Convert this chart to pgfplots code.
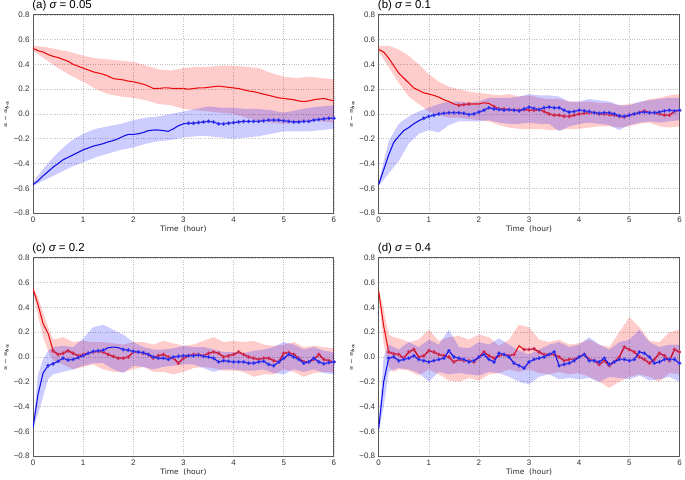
\documentclass[border=0pt]{standalone}
\usepackage{amsmath}
\usepackage{pgfplots}
\pgfplotsset{compat=1.18}
\usepackage{pgfplotstable}
\usepgfplotslibrary{groupplots,fillbetween}
\usepackage{fontspec}
\setmainfont{Liberation Sans}
\newfontfamily\dejavu{DejaVu Sans}
\definecolor{lred}{RGB}{232,16,16}
\definecolor{lblue}{RGB}{16,16,232}
\definecolor{crim}{RGB}{196,16,62}

% ---------- panel (a) ----------
\pgfplotstableread{
t r b
0.0 0.53 -0.57
0.1 0.51 -0.54
0.2 0.50 -0.50
0.3 0.48 -0.465
0.4 0.465 -0.43
0.5 0.455 -0.40
0.6 0.44 -0.37
0.7 0.425 -0.35
0.8 0.40 -0.33
0.9 0.385 -0.31
1.0 0.37 -0.29
1.1 0.355 -0.275
1.2 0.34 -0.26
1.3 0.33 -0.25
1.4 0.32 -0.24
1.5 0.305 -0.225
1.6 0.285 -0.215
1.7 0.28 -0.20
1.8 0.275 -0.18
1.9 0.265 -0.165
2.0 0.26 -0.165
2.1 0.25 -0.16
2.2 0.24 -0.15
2.3 0.225 -0.135
2.4 0.205 -0.13
2.5 0.205 -0.13
2.6 0.21 -0.135
2.7 0.21 -0.14
2.8 0.205 -0.12
2.9 0.205 -0.095
3.0 0.205 -0.08
3.1 0.20 -0.075
3.2 0.205 -0.075
3.3 0.21 -0.07
3.4 0.21 -0.065
3.5 0.215 -0.06
3.6 0.22 -0.065
3.7 0.225 -0.08
3.8 0.22 -0.08
3.9 0.215 -0.075
4.0 0.21 -0.07
4.1 0.205 -0.065
4.2 0.195 -0.06
4.3 0.185 -0.06
4.4 0.18 -0.06
4.5 0.17 -0.06
4.6 0.16 -0.055
4.7 0.15 -0.05
4.8 0.14 -0.05
4.9 0.13 -0.05
5.0 0.125 -0.055
5.1 0.12 -0.06
5.2 0.115 -0.065
5.3 0.105 -0.065
5.4 0.10 -0.06
5.5 0.105 -0.06
5.6 0.115 -0.05
5.7 0.12 -0.045
5.8 0.125 -0.04
5.9 0.115 -0.035
6.0 0.105 -0.035
}\meanA
\pgfplotstableread{
t lo hi
0 0.51 0.55
0.25 0.44 0.54
0.5 0.37 0.52
0.75 0.31 0.50
1.0 0.26 0.47
1.25 0.20 0.45
1.5 0.16 0.44
1.75 0.14 0.43
2.0 0.13 0.42
2.25 0.11 0.39
2.5 0.08 0.36
2.75 0.07 0.35
3.0 0.04 0.37
3.25 0.03 0.38
3.5 0.02 0.38
3.75 0.01 0.39
4.0 0.00 0.39
4.25 -0.03 0.38
4.5 -0.06 0.37
4.75 -0.07 0.33
5.0 -0.08 0.30
5.25 -0.07 0.29
5.5 -0.05 0.30
5.75 -0.06 0.29
6.0 -0.07 0.28
}\redA
\pgfplotstableread{
t lo hi
0 -0.58 -0.55
0.25 -0.53 -0.42
0.5 -0.48 -0.31
0.75 -0.43 -0.22
1.0 -0.39 -0.16
1.25 -0.35 -0.12
1.5 -0.32 -0.10
1.75 -0.29 -0.08
2.0 -0.27 -0.05
2.25 -0.24 -0.03
2.5 -0.22 -0.02
2.75 -0.21 0.0
3.0 -0.19 0.02
3.25 -0.18 0.04
3.5 -0.18 0.06
3.75 -0.19 0.05
4.0 -0.20 0.05
4.25 -0.19 0.04
4.5 -0.18 0.04
4.75 -0.16 0.03
5.0 -0.14 0.01
5.25 -0.14 0.03
5.5 -0.14 0.05
5.75 -0.13 0.06
6.0 -0.12 0.07
}\blueA

% ---------- panel (b) ----------
\pgfplotstableread{
t r b
0.0 0.52 -0.57
0.1 0.50 -0.45
0.2 0.45 -0.33
0.3 0.39 -0.23
0.4 0.33 -0.18
0.5 0.29 -0.135
0.6 0.25 -0.11
0.7 0.21 -0.08
0.8 0.19 -0.055
0.9 0.17 -0.035
1.0 0.16 -0.02
1.1 0.15 -0.01
1.2 0.135 0.0
1.3 0.115 0.005
1.4 0.10 0.01
1.5 0.08 0.01
1.6 0.07 0.01
1.7 0.075 0.005
1.8 0.08 -0.005
1.9 0.08 0.0
2.0 0.08 0.015
2.1 0.09 0.03
2.2 0.085 0.05
2.3 0.06 0.04
2.4 0.04 0.035
2.5 0.04 0.03
2.6 0.035 0.035
2.7 0.03 0.03
2.8 0.03 0.025
2.9 0.035 0.04
3.0 0.03 0.055
3.1 0.03 0.045
3.2 0.035 0.035
3.3 0.02 0.05
3.4 0.0 0.055
3.5 -0.01 0.05
3.6 -0.01 0.05
3.7 -0.02 0.03
3.8 -0.02 0.015
3.9 -0.01 0.02
4.0 0.0 0.03
4.1 0.005 0.025
4.2 0.01 0.02
4.3 0.01 0.01
4.4 0.0 0.005
4.5 0.0 0.01
4.6 -0.005 0.01
4.7 -0.01 0.0
4.8 -0.02 -0.015
4.9 -0.025 -0.02
5.0 -0.01 -0.01
5.1 0.0 0.0
5.2 0.01 0.01
5.3 0.025 0.015
5.4 0.01 0.01
5.5 0.01 0.01
5.6 0.0 0.015
5.7 -0.01 0.025
5.8 -0.01 0.03
5.9 0.02 0.025
6.0 0.03 0.03
}\meanB
\pgfplotstableread{
t lo hi
0 0.50 0.55
0.2 0.38 0.55
0.4 0.25 0.52
0.6 0.14 0.47
0.8 0.08 0.40
1.0 0.02 0.32
1.2 -0.01 0.26
1.4 -0.03 0.22
1.6 -0.03 0.20
1.8 -0.04 0.18
2.0 -0.05 0.17
2.2 -0.06 0.16
2.4 -0.09 0.15
2.6 -0.11 0.16
2.8 -0.12 0.14
3.0 -0.12 0.15
3.2 -0.12 0.13
3.4 -0.13 0.12
3.6 -0.13 0.12
3.8 -0.12 0.10
4.0 -0.12 0.10
4.2 -0.11 0.10
4.4 -0.10 0.09
4.6 -0.10 0.09
4.8 -0.11 0.07
5.0 -0.10 0.08
5.2 -0.08 0.09
5.4 -0.07 0.12
5.6 -0.10 0.13
5.8 -0.11 0.15
6.0 -0.10 0.16
}\redB
\pgfplotstableread{
t lo hi
0 -0.58 -0.55
0.2 -0.48 -0.22
0.4 -0.38 -0.08
0.6 -0.24 -0.02
0.8 -0.16 0.02
1.0 -0.13 0.05
1.2 -0.15 0.08
1.4 -0.09 0.10
1.6 -0.06 0.10
1.8 -0.06 0.09
2.0 -0.06 0.10
2.2 -0.05 0.13
2.4 -0.07 0.13
2.6 -0.08 0.13
2.8 -0.08 0.14
3.0 -0.07 0.16
3.2 -0.08 0.15
3.4 -0.08 0.15
3.6 -0.14 0.14
3.8 -0.10 0.10
4.0 -0.08 0.10
4.2 -0.07 0.12
4.4 -0.08 0.11
4.6 -0.09 0.10
4.8 -0.13 0.07
5.0 -0.09 0.07
5.2 -0.07 0.10
5.4 -0.06 0.11
5.6 -0.07 0.12
5.8 -0.06 0.13
6.0 -0.05 0.13
}\blueB

% ---------- panel (c) ----------
\pgfplotstableread{
t r b
0.0 0.55 -0.57
0.1 0.42 -0.30
0.2 0.27 -0.13
0.3 0.19 -0.07
0.4 0.05 -0.055
0.5 0.02 -0.035
0.6 0.03 -0.01
0.7 0.05 -0.025
0.8 0.03 -0.02
0.9 0.01 -0.005
1.0 0.02 0.01
1.1 0.03 0.03
1.2 0.04 0.045
1.3 0.045 0.05
1.4 0.04 0.055
1.5 0.02 0.075
1.6 0.005 0.08
1.7 -0.01 0.075
1.8 -0.01 0.06
1.9 0.0 0.055
2.0 0.04 0.045
2.1 0.04 0.04
2.2 0.03 0.035
2.3 0.02 0.02
2.4 -0.01 0.0
2.5 0.01 -0.01
2.6 0.02 -0.01
2.7 0.0 -0.02
2.8 -0.01 0.0
2.9 -0.05 0.005
3.0 -0.01 0.01
3.1 0.01 0.01
3.2 0.02 0.01
3.3 0.02 0.015
3.4 0.01 0.005
3.5 0.03 0.0
3.6 0.04 -0.01
3.7 0.03 -0.04
3.8 0.0 -0.03
3.9 0.01 -0.035
4.0 0.02 -0.04
4.1 0.04 -0.04
4.2 0.02 -0.04
4.3 0.0 -0.05
4.4 -0.01 -0.05
4.5 -0.02 -0.04
4.6 -0.01 -0.035
4.7 -0.01 -0.06
4.8 -0.03 -0.07
4.9 -0.04 -0.04
5.0 0.03 -0.01
5.1 0.035 0.02
5.2 0.02 0.0
5.3 -0.01 -0.02
5.4 -0.04 -0.05
5.5 -0.04 -0.04
5.6 -0.02 -0.01
5.7 0.02 -0.04
5.8 -0.02 -0.055
5.9 -0.03 -0.045
6.0 -0.04 -0.04
}\meanC
\pgfplotstableread{
t lo hi
0 0.53 0.56
0.1 0.33 0.48
0.2 0.16 0.36
0.3 0.05 0.24
0.4 -0.03 0.14
0.6 -0.06 0.16
0.8 -0.10 0.12
1.0 -0.08 0.13
1.2 -0.06 0.12
1.4 -0.10 0.12
1.6 -0.12 0.11
1.8 -0.12 0.10
2.0 -0.10 0.12
2.2 -0.08 0.12
2.4 -0.12 0.10
2.6 -0.12 0.13
2.8 -0.14 0.11
3.0 -0.12 0.09
3.2 -0.09 0.10
3.4 -0.08 0.13
3.6 -0.09 0.16
3.8 -0.11 0.12
4.0 -0.11 0.13
4.2 -0.12 0.12
4.4 -0.16 0.13
4.6 -0.14 0.10
4.8 -0.14 0.09
5.0 -0.10 0.10
5.2 -0.12 0.12
5.4 -0.16 0.08
5.6 -0.13 0.09
5.8 -0.12 0.08
6.0 -0.12 0.07
}\redC
\pgfplotstableread{
t lo hi
0 -0.58 -0.55
0.1 -0.46 -0.14
0.2 -0.32 -0.02
0.3 -0.18 0.05
0.4 -0.14 0.08
0.6 -0.12 0.09
0.8 -0.10 0.08
1.0 -0.07 0.15
1.2 -0.05 0.24
1.4 -0.05 0.26
1.6 -0.10 0.22
1.8 -0.13 0.18
2.0 -0.07 0.12
2.2 -0.08 0.08
2.4 -0.10 0.06
2.6 -0.08 0.06
2.8 -0.07 0.07
3.0 -0.06 0.09
3.2 -0.06 0.08
3.4 -0.09 0.08
3.6 -0.12 0.06
3.8 -0.10 0.04
4.0 -0.10 0.04
4.2 -0.11 0.03
4.4 -0.11 0.05
4.6 -0.10 0.06
4.8 -0.13 0.08
5.0 -0.14 0.12
5.2 -0.10 0.10
5.4 -0.12 0.06
5.6 -0.10 0.08
5.8 -0.13 0.05
6.0 -0.14 0.04
}\blueC

% ---------- panel (d) ----------
\pgfplotstableread{
t r b
0.0 0.53 -0.58
0.1 0.25 -0.20
0.2 0.04 -0.01
0.3 0.025 0.0
0.4 0.02 -0.03
0.5 -0.01 -0.02
0.6 0.04 -0.01
0.7 0.06 0.01
0.8 0.0 -0.02
0.9 0.01 -0.03
1.0 0.05 -0.04
1.1 0.04 -0.03
1.2 0.02 -0.02
1.3 0.01 -0.01
1.4 0.0 0.05
1.5 -0.04 0.0
1.6 -0.02 -0.01
1.7 -0.03 -0.02
1.8 -0.03 -0.04
1.9 -0.04 -0.03
2.0 0.0 0.0
2.1 0.04 0.02
2.2 0.01 -0.02
2.3 -0.01 -0.04
2.4 0.01 0.03
2.5 0.02 0.02
2.6 0.01 0.0
2.7 0.02 -0.05
2.8 0.09 -0.07
2.9 0.06 -0.09
3.0 0.06 -0.04
3.1 0.065 -0.02
3.2 0.04 -0.01
3.3 0.02 0.0
3.4 0.02 0.02
3.5 0.02 0.04
3.6 0.0 -0.07
3.7 -0.03 -0.06
3.8 -0.02 -0.05
3.9 -0.02 -0.03
4.0 0.0 0.0
4.1 0.02 0.02
4.2 -0.02 -0.03
4.3 -0.03 -0.03
4.4 -0.06 -0.04
4.5 -0.03 -0.01
4.6 -0.07 -0.06
4.7 -0.04 -0.04
4.8 0.0 -0.02
4.9 0.08 -0.02
5.0 0.06 -0.03
5.1 0.04 -0.02
5.2 0.0 0.04
5.3 -0.02 0.03
5.4 -0.05 0.0
5.5 -0.02 -0.05
5.6 0.03 -0.04
5.7 0.01 -0.02
5.8 -0.03 -0.02
5.9 0.06 -0.02
6.0 0.04 -0.05
}\meanD
\pgfplotstableread{
t lo hi
0 0.50 0.55
0.1 0.10 0.38
0.2 -0.08 0.18
0.3 -0.12 0.16
0.4 -0.10 0.15
0.6 -0.11 0.12
0.8 -0.15 0.14
1.0 -0.10 0.22
1.2 -0.14 0.13
1.4 -0.19 0.16
1.6 -0.20 0.17
1.8 -0.17 0.14
2.0 -0.19 0.18
2.2 -0.14 0.16
2.4 -0.13 0.09
2.6 -0.10 0.14
2.8 -0.12 0.26
3.0 -0.10 0.24
3.2 -0.13 0.14
3.4 -0.14 0.12
3.6 -0.12 0.14
3.8 -0.14 0.10
4.0 -0.13 0.11
4.2 -0.16 0.14
4.4 -0.20 0.10
4.6 -0.25 0.08
4.8 -0.20 0.20
5.0 -0.16 0.32
5.2 -0.14 0.24
5.4 -0.16 0.13
5.6 -0.20 0.12
5.8 -0.13 0.20
6.0 -0.14 0.22
}\redD
\pgfplotstableread{
t lo hi
0 -0.60 -0.55
0.1 -0.40 0.0
0.2 -0.12 0.10
0.3 -0.10 0.08
0.4 -0.09 0.06
0.6 -0.10 0.12
0.8 -0.13 0.08
1.0 -0.20 0.14
1.2 -0.12 0.10
1.4 -0.14 0.22
1.6 -0.13 0.08
1.8 -0.14 0.07
2.0 -0.15 0.12
2.2 -0.12 0.10
2.4 -0.13 0.15
2.6 -0.16 0.10
2.8 -0.20 0.05
3.0 -0.22 0.02
3.2 -0.16 0.06
3.4 -0.14 0.10
3.6 -0.18 0.12
3.8 -0.17 0.08
4.0 -0.18 0.10
4.2 -0.17 0.16
4.4 -0.20 0.10
4.6 -0.16 0.06
4.8 -0.17 0.12
5.0 -0.18 0.14
5.2 -0.15 0.22
5.4 -0.19 0.12
5.6 -0.18 0.08
5.8 -0.16 0.10
6.0 -0.20 0.10
}\blueD

\newcommand\redpart[2]{%
  \addplot[draw=none, forget plot, name path=ru] table[x=t,y=hi]{#2};
  \addplot[draw=none, forget plot, name path=rl] table[x=t,y=lo]{#2};
  \addplot[fill=red, fill opacity=0.2, draw=none, forget plot] fill between[of=ru and rl];
  \addplot[lred, line width=1.1pt, forget plot] table[x=t,y=r]{#1};
}
\newcommand\bluepart[2]{%
  \addplot[draw=none, forget plot, name path=bu] table[x=t,y=hi]{#2};
  \addplot[draw=none, forget plot, name path=bl] table[x=t,y=lo]{#2};
  \addplot[fill=blue, fill opacity=0.2, draw=none, forget plot] fill between[of=bu and bl];
  \addplot[lblue, line width=1.1pt, forget plot] table[x=t,y=b]{#1};
}
\newcommand\redmarks[3]{%
  \addplot[crim, line width=1.1pt, mark=*, mark size=1.7pt, mark options={fill=crim, draw=crim!75!white, line width=0.6pt}, restrict x to domain=#2:#3, forget plot] table[x=t,y=r]{#1};
}
\newcommand\bluemarks[3]{%
  \addplot[only marks, mark=*, mark size=1.7pt, mark options={fill=lblue, draw=lblue!70!white, line width=0.6pt}, restrict x to domain=#2:#3, forget plot] table[x=t,y=b]{#1};
}
\newcommand\ptitle[1]{\node[anchor=south west, inner sep=0pt, font=\fontsize{11.5}{13}\selectfont] at (rel axis cs:-0.003,1.02) {#1};}

\begin{document}
\begin{tikzpicture}
\begin{groupplot}[
  group style={group size=2 by 2, horizontal sep=45pt, vertical sep=45pt},
  scale only axis, width=302pt, height=199pt,
  clip mode=individual,
  xmin=0, xmax=6, ymin=-0.8, ymax=0.8,
  xtick={0,1,2,3,4,5,6}, xticklabels={0,1,2,3,4,5,6},
  ytick={-0.8,-0.6,-0.4,-0.2,0,0.2,0.4,0.6,0.8},
  yticklabels={−0.8,−0.6,−0.4,−0.2,0.0,0.2,0.4,0.6,0.8},
  tick label style={font=\fontsize{8}{9}\selectfont, text=black!80},
  major tick length=0pt,
  grid=major,
  major grid style={draw=black!25, dotted, line width=0.5pt},
  axis line style={draw=black!65, line width=0.8pt},
  xlabel={Time\ \ (hour)},
  xlabel style={font=\dejavu\fontsize{7.5}{9}\selectfont, text=black!85, yshift=3pt},
  ylabel={$\boldsymbol{x - x_{ba}}$},
  ylabel style={font=\fontsize{5.5}{6}\selectfont, at={(axis description cs:-0.09,0.5)}, anchor=center},
]
\nextgroupplot
\ptitle{(a) {\itshape σ} = 0.05}
\redpart{\meanA}{\redA}
\bluepart{\meanA}{\blueA}
\bluemarks{\meanA}{3.05}{6.05}

\nextgroupplot
\ptitle{(b) {\itshape σ} = 0.1}
\redpart{\meanB}{\redB}
\redmarks{\meanB}{1.55}{1.85}
\redmarks{\meanB}{2.25}{6.05}
\bluepart{\meanB}{\blueB}
\bluemarks{\meanB}{0.85}{6.05}

\nextgroupplot
\ptitle{(c) {\itshape σ} = 0.2}
\redpart{\meanC}{\redC}
\redmarks{\meanC}{0.35}{6.05}
\bluepart{\meanC}{\blueC}
\bluemarks{\meanC}{0.25}{1.45}
\bluemarks{\meanC}{1.75}{6.05}

\nextgroupplot
\ptitle{(d) {\itshape σ} = 0.4}
\redpart{\meanD}{\redD}
\redmarks{\meanD}{0.15}{2.75}
\redmarks{\meanD}{2.85}{6.05}
\bluepart{\meanD}{\blueD}
\bluemarks{\meanD}{0.2}{6.05}
\end{groupplot}
\end{tikzpicture}
\end{document}
